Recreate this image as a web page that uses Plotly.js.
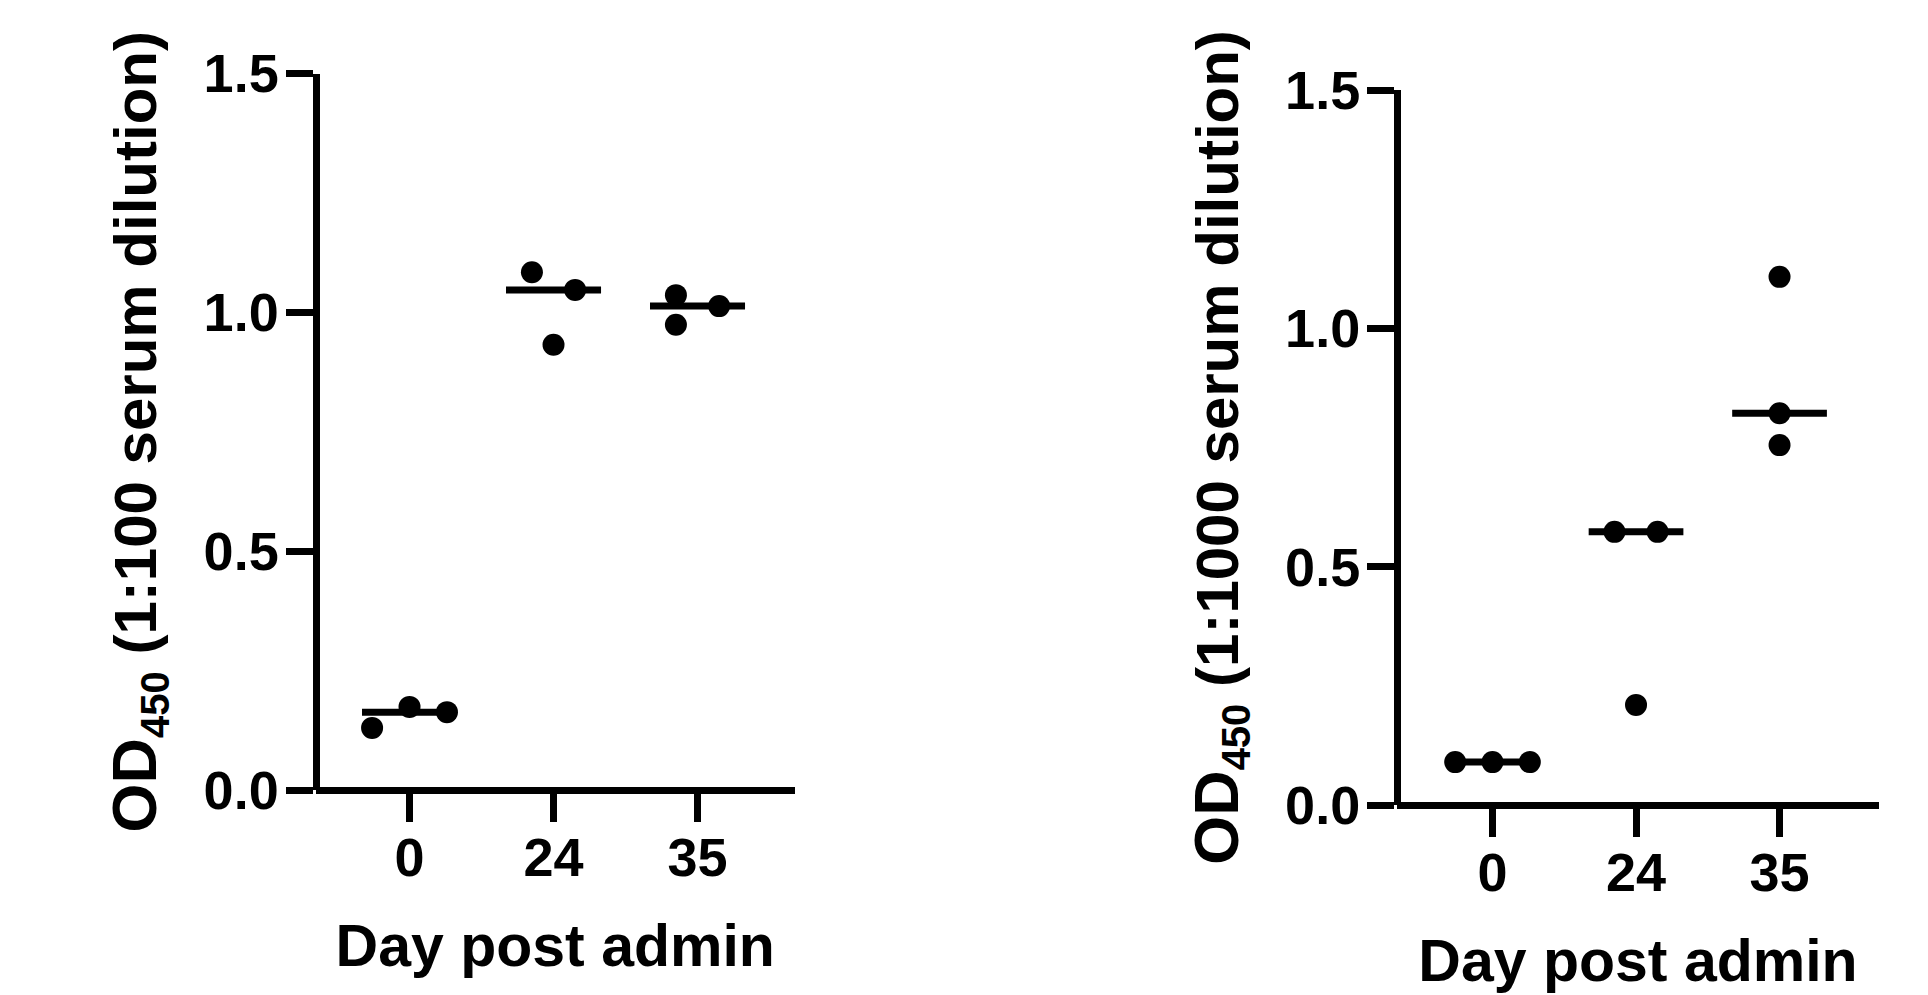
<!DOCTYPE html>
<html>
<head>
<meta charset="utf-8">
<script src="https://cdn.plot.ly/plotly-3.0.1.min.js"></script>
<style>
  html, body { margin: 0; padding: 0; background: #ffffff; }
  #chart { width: 1928px; height: 995px; }
</style>
</head>
<body>
<div id="chart"></div>
<script>
// ---------------- data ----------------
const days = ['0', '24', '35'];

// OD450 at 1:100 serum dilution, one array per day
const od100_day0  = [0.130, 0.174, 0.163];
const od100_day24 = [1.084, 1.047, 0.932];
const od100_day35 = [1.036, 0.974, 1.013];

// OD450 at 1:1000 serum dilution, one array per day
const od1000_day0  = [0.090, 0.090, 0.090];
const od1000_day24 = [0.573, 0.573, 0.210];
const od1000_day35 = [1.108, 0.822, 0.755];

const yTickVals = [0, 0.5, 1.0, 1.5];
const yTickText = ['0.0', '0.5', '1.0', '1.5'];

// ---------------- presentation ----------------
// horizontal scatter (swarm) offsets of the points inside each column, in category units
const swarmLeft  = [[-0.26, 0, 0.26], [-0.15, 0.15, 0], [-0.15, -0.15, 0.15]];
const swarmRight = [[-0.26, 0, 0.26], [-0.15, 0.15, 0], [0, 0, 0]];
const MEDIAN_HALF = 0.33;
const FONT = 'Liberation Sans, Arial, Helvetica, sans-serif';

function median(arr) {
  const s = arr.slice().sort((a, b) => a - b);
  const m = Math.floor(s.length / 2);
  return s.length % 2 ? s[m] : (s[m - 1] + s[m]) / 2;
}

function panelTraces(groups, swarm, xa, ya) {
  const px = [], py = [], lx = [], ly = [];
  groups.forEach((vals, i) => {
    vals.forEach((v, j) => { px.push(i + swarm[i][j]); py.push(v); });
    const m = median(vals);
    lx.push(i - MEDIAN_HALF, i + MEDIAN_HALF, null);
    ly.push(m, m, null);
  });
  return [
    { type: 'scatter', mode: 'lines', x: lx, y: ly, xaxis: xa, yaxis: ya,
      line: { color: '#000000', width: 7 }, hoverinfo: 'skip', showlegend: false },
    { type: 'scatter', mode: 'markers', x: px, y: py, xaxis: xa, yaxis: ya,
      marker: { color: '#000000', size: 22, line: { width: 0 } }, showlegend: false }
  ];
}

const traces = [].concat(
  panelTraces([od100_day0, od100_day24, od100_day35], swarmLeft, 'x', 'y'),
  panelTraces([od1000_day0, od1000_day24, od1000_day35], swarmRight, 'x2', 'y2')
);

const W = 1928, H = 995;
function xAxis(dom, rng, posY) {
  return {
    domain: dom, range: rng, anchor: 'free', position: posY,
    tickmode: 'array', tickvals: [0, 1, 2], ticktext: days,
    showline: true, linecolor: '#000000', linewidth: 7,
    ticks: 'outside', ticklen: 28, tickwidth: 7, tickcolor: '#000000',
    ticklabelstandoff: -11,
    showgrid: false, zeroline: false, fixedrange: true,
    tickfont: { family: FONT, size: 54, color: '#000000', weight: 'bold' },
    title: { text: 'Day post admin', standoff: 38,
             font: { family: FONT, size: 59, color: '#000000', weight: 'bold' } }
  };
}
function yAxis(dom, posX, dil) {
  return {
    domain: dom, range: [0, 1.5], anchor: 'free', position: posX,
    tickmode: 'array', tickvals: yTickVals, ticktext: yTickText,
    showline: true, linecolor: '#000000', linewidth: 7,
    ticks: 'outside', ticklen: 27, tickwidth: 7, tickcolor: '#000000',
    ticklabelstandoff: -4,
    showgrid: false, zeroline: false, fixedrange: true,
    tickfont: { family: FONT, size: 54, color: '#000000', weight: 'bold' },
    title: { text: '<span style="font-size:63px">OD</span><sub><span style="font-size:40px">450</span></sub> (' + dil + ' serum dilution)',
             standoff: 26,
             font: { family: FONT, size: 60, color: '#000000', weight: 'bold' } }
  };
}

const layout = {
  width: W, height: H,
  margin: { l: 0, r: 0, t: 0, b: 0, pad: 0 },
  paper_bgcolor: '#ffffff', plot_bgcolor: '#ffffff',
  font: { family: FONT, color: '#000000', weight: 'bold' },
  showlegend: false,
  xaxis:  xAxis([315.5 / W, 795 / W], [-0.653, 2.677], (H - 790) / H),
  yaxis:  yAxis([(H - 790) / H, (H - 73.5) / H], 315.5 / W, '1:100'),
  xaxis2: xAxis([1397 / W, 1879 / W], [-0.6655, 2.693], (H - 805) / H),
  yaxis2: yAxis([(H - 805) / H, (H - 90) / H], 1397 / W, '1:1000')
};

Plotly.newPlot('chart', traces, layout, { displayModeBar: false, staticPlot: true });
</script>
</body>
</html>
